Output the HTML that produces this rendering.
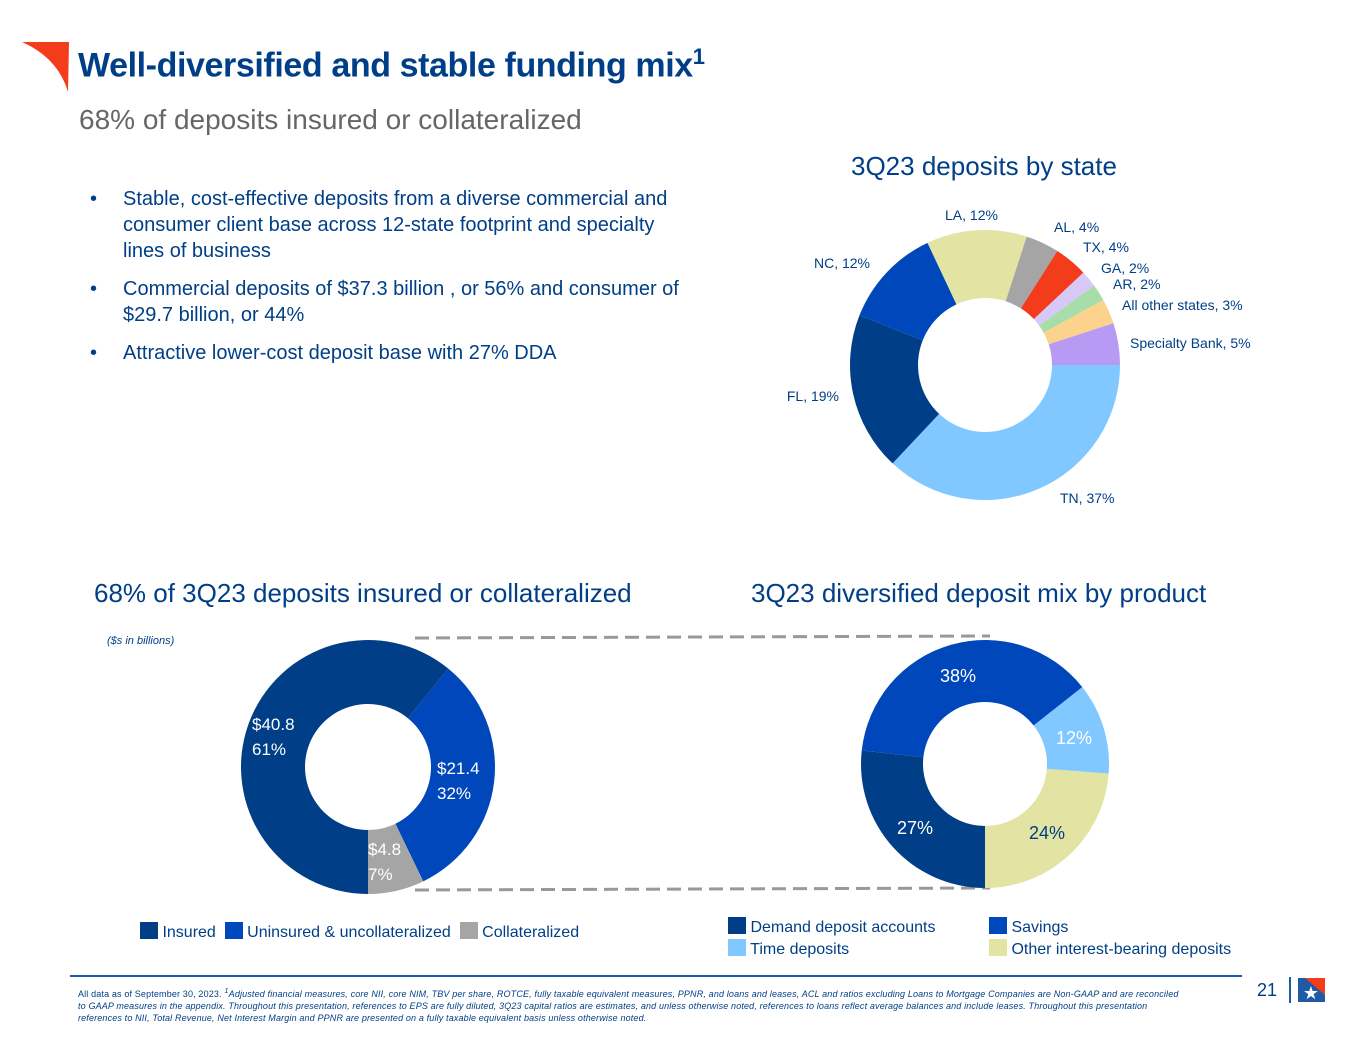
<!DOCTYPE html>
<html><head><meta charset="utf-8">
<style>
body{margin:0;width:1365px;height:1040px;background:#fff;font-family:"Liberation Sans",sans-serif;position:relative;overflow:hidden}
.a{position:absolute;white-space:nowrap}
.t{color:#003f87}
ul{margin:0;padding:0;list-style:none}
</style></head><body>
<svg class="a" style="left:0;top:0" width="1365" height="1040" id="cv">
<path d="M22,42 L69,42 L68,92 Q58,58 22,42Z" fill="#f33c1c"/>
<line x1="70" y1="976" x2="1242" y2="976" stroke="#1f5aa6" stroke-width="2"/>
<line x1="1290" y1="977" x2="1290" y2="1003" stroke="#1f5aa6" stroke-width="2"/>
<g>
<rect x="1298" y="978" width="27" height="24" fill="#1f5aa6"/>
<polygon points="1305,978 1325,978 1325,995" fill="#f33c1c"/>
<text x="1311" y="999" font-size="18" fill="#fff" text-anchor="middle">★</text>
</g>
<line x1="415" y1="638" x2="990" y2="636" stroke="#999" stroke-width="3" stroke-dasharray="14,7"/>
<line x1="415" y1="890" x2="990" y2="888" stroke="#999" stroke-width="3" stroke-dasharray="14,7"/>
</svg>
<div class="a t" style="left:78px;top:44px;font-size:34px;font-weight:bold;letter-spacing:-0.4px">Well-diversified and stable funding mix<sup style="font-size:22px">1</sup></div>
<div class="a" style="left:79px;top:104px;font-size:28px;color:#666">68% of deposits insured or collateralized</div>
<ul class="a t" style="left:90px;top:186px;font-size:20px;line-height:26px">
<li style="position:relative;padding-left:33px;margin-bottom:12px"><span style="position:absolute;left:0">•</span>Stable, cost-effective deposits from a diverse commercial and<br>consumer client base across 12-state footprint and specialty<br>lines of business</li>
<li style="position:relative;padding-left:33px;margin-bottom:12px"><span style="position:absolute;left:0">•</span>Commercial deposits of $37.3 billion , or 56% and consumer of<br>$29.7 billion, or 44%</li>
<li style="position:relative;padding-left:33px"><span style="position:absolute;left:0">•</span>Attractive lower-cost deposit base with 27% DDA</li>
</ul>
<div class="a t" style="left:851px;top:151px;font-size:26px">3Q23 deposits by state</div>
<div class="a t" style="left:94px;top:578px;font-size:26px">68% of 3Q23 deposits insured or collateralized</div>
<div class="a t" style="left:751px;top:578px;font-size:26px">3Q23 diversified deposit mix by product</div>
<div class="a t" style="left:107px;top:635px;font-size:11px;font-style:italic">($s in billions)</div>
<div class="a t" style="left:78px;top:985px;font-size:9px;line-height:12px;font-style:italic;letter-spacing:0.15px"><span style="font-style:normal">All data as  of September 30, 2023. </span><sup>1</sup>Adjusted financial measures, core NII, core NIM, TBV per share, ROTCE, fully taxable equivalent measures, PPNR, and loans and leases, ACL and ratios excluding Loans to Mortgage Companies are Non-GAAP and are reconciled<br>to GAAP measures in the appendix. Throughout this presentation, references to EPS are fully diluted, 3Q23 capital ratios are estimates, and unless otherwise noted, references to loans reflect average balances and include leases. Throughout this presentation<br>references to NII, Total Revenue, Net Interest Margin and PPNR are presented on a fully taxable equivalent basis unless otherwise noted.</div>
<div class="a t" style="left:1257px;top:980px;font-size:18px">21</div>
<div class="a t" style="left:140px;top:922px;font-size:16px">
<span style="display:inline-block;width:18px;height:17px;background:#003f87;vertical-align:-2px"></span> Insured&nbsp;
<span style="display:inline-block;width:18px;height:17px;background:#0047bb;vertical-align:-2px"></span> Uninsured &amp; uncollateralized&nbsp;
<span style="display:inline-block;width:18px;height:17px;background:#a5a5a5;vertical-align:-2px"></span> Collateralized</div>
<div class="a t" style="left:728px;top:917px;font-size:16px;line-height:22px">
<div><span style="display:inline-block;width:18px;height:17px;background:#003f87;vertical-align:-2px"></span> Demand deposit accounts</div>
<div><span style="display:inline-block;width:18px;height:17px;background:#80c8ff;vertical-align:-2px"></span> Time deposits</div></div>
<div class="a t" style="left:989px;top:917px;font-size:16px;line-height:22px">
<div><span style="display:inline-block;width:18px;height:17px;background:#0047bb;vertical-align:-2px"></span> Savings</div>
<div><span style="display:inline-block;width:18px;height:17px;background:#e3e3a3;vertical-align:-2px"></span> Other interest-bearing deposits</div></div>
<script>
const stateNames=["TN","FL","NC","LA","AL","TX","GA","AR","All other states","Specialty Bank"];
const stateValues=[37,19,12,12,4,4,2,2,3,5];
const stateColors=["#80c8ff","#003f87","#0047bb","#e3e3a3","#a5a5a5","#f33c1c","#d8c8f8","#a8dca8","#fcd38c","#b79af3"];
const insuredNames=["Insured","Uninsured","Collateralized"];
const insuredValues=[40.8,21.4,4.8];
const insuredPct=[61,32,7];
const productNames=["Demand","Savings","Time","Other"];
const productValues=[27,38,12,24];
const productColors=["#003f87","#0047bb","#80c8ff","#e3e3a3"];
const NS="http://www.w3.org/2000/svg";
const cv=document.getElementById('cv');
function pt(cx,cy,r,a){return [cx+r*Math.sin(a),cy-r*Math.cos(a)];}
function donut(vals,colors,cx,cy,ro,ri,start,names,labels){
  const tot=vals.reduce((s,v)=>s+v,0);let a=start;
  vals.forEach((v,i)=>{
    const b=a+v/tot*2*Math.PI;const lg=(b-a)>Math.PI?1:0;
    const p1=pt(cx,cy,ro,a),p2=pt(cx,cy,ro,b),p3=pt(cx,cy,ri,b),p4=pt(cx,cy,ri,a);
    const p=document.createElementNS(NS,'path');
    p.setAttribute('d',`M${p1}A${ro},${ro} 0 ${lg} 1 ${p2}L${p3}A${ri},${ri} 0 ${lg} 0 ${p4}Z`);
    p.setAttribute('fill',colors[i]);
    
    
    cv.appendChild(p);
    if(labels){labels(i,(a+b)/2);}
    a=b;});
}
function txt(x,y,s,fill,size,anchor){const t=document.createElementNS(NS,'text');t.setAttribute('x',x);t.setAttribute('y',y);t.setAttribute('fill',fill);t.setAttribute('font-size',size);t.setAttribute('text-anchor',anchor||'start');t.textContent=s;


cv.appendChild(t);return t;}
donut(stateValues,stateColors,985,365,135,67,Math.PI/2,stateNames.map(n=>'slice-'+n.toLowerCase().replace(/ /g,'-')));
const stLab=[[1060,503,'start'],[839,401,'end'],[870,268,'end'],[945,220,'start'],[1054,232,'start'],[1083,252,'start'],[1101,273,'start'],[1113,289,'start'],[1122,310,'start'],[1130,348,'start']];
stateNames.forEach((n,i)=>txt(stLab[i][0],stLab[i][1],n+', '+stateValues[i]+'%','#003f87',14,stLab[i][2]));
const insColors=["#003f87","#0047bb","#a5a5a5"];
const insLab=[[252,730],[437,774],[368,855]];
donut(insuredValues,insColors,368,767,127,63,Math.PI,insuredNames.map(n=>'slice-'+n.toLowerCase()),(i)=>{
  txt(insLab[i][0],insLab[i][1],'$'+insuredValues[i].toFixed(1),'#fff',17);
  txt(insLab[i][0],insLab[i][1]+25,insuredPct[i]+'%','#fff',17);});
const prLab=[[915,834],[958,682],[1074,744],[1047,839]];
donut(productValues,productColors,985,764,124,62,Math.PI,productNames.map(n=>'slice-'+n.toLowerCase()),(i)=>{
  txt(prLab[i][0],prLab[i][1],productValues[i]+'%',i==3?'#003f87':'#fff',18,'middle');});
</script>
</body></html>
